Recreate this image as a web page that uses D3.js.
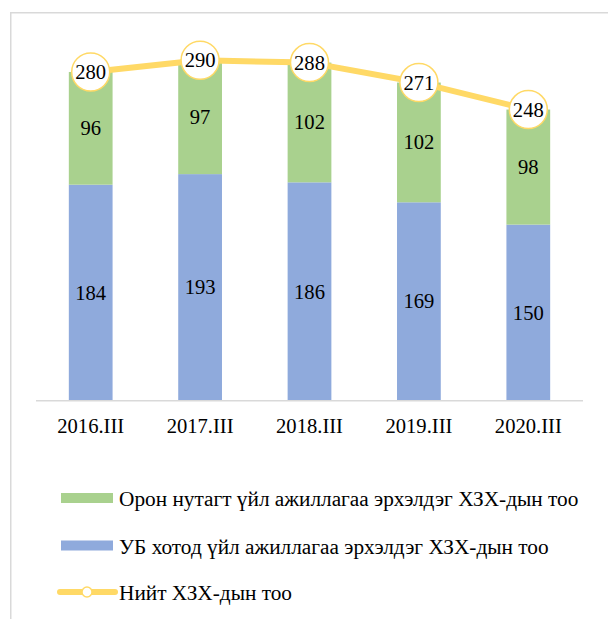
<!DOCTYPE html>
<html>
<head>
<meta charset="utf-8">
<script src="https://cdn.jsdelivr.net/npm/d3@7"></script>
<style>
html,body{margin:0;padding:0;background:#fff;}
svg{display:block;}
</style>
</head>
<body>
<svg id="chart" width="608" height="619"></svg>
<script>
const categories = ["2016.III", "2017.III", "2018.III", "2019.III", "2020.III"];
const ubValues = [184, 193, 186, 169, 150];
const ruralValues = [96, 97, 102, 102, 98];
const totalValues = [280, 290, 288, 271, 248];
const legendLabels = [
  "Орон нутагт үйл ажиллагаа эрхэлдэг ХЗХ-дын тоо",
  "УБ хотод үйл ажиллагаа эрхэлдэг ХЗХ-дын тоо",
  "Нийт ХЗХ-дын тоо"
];
const colors = {green: "#A9D18E", blue: "#8FAADC", yellow: "#FFD966", grid: "#D9D9D9"};
const FONT = "Liberation Serif, Times New Roman, serif";

const svg = d3.select("#chart");

// frame
svg.append("path")
  .attr("d", "M10.75,619 L10.75,12.75 L608,12.75")
  .attr("fill", "none").attr("stroke", colors.grid).attr("stroke-width", 1.5);

const x = d3.scaleBand().domain(categories).range([36, 583]).paddingInner(0.6).paddingOuter(0.3);
const y = d3.scaleLinear().domain([0, 300]).range([400.7, 400.7 - 300 * 1.174]);

const data = categories.map((c, i) => ({c, ub: ubValues[i], rural: ruralValues[i], total: totalValues[i]}));

// bars
const g = svg.append("g");
g.selectAll("rect.ub").data(data).join("rect").attr("class", "ub")
  .attr("x", d => x(d.c)).attr("width", x.bandwidth())
  .attr("y", d => y(d.ub)).attr("height", d => y(0) - y(d.ub))
  .attr("fill", colors.blue);
g.selectAll("rect.rural").data(data).join("rect").attr("class", "rural")
  .attr("x", d => x(d.c)).attr("width", x.bandwidth())
  .attr("y", d => y(d.ub + d.rural)).attr("height", d => y(d.ub) - y(d.ub + d.rural))
  .attr("fill", colors.green);

// axis
const axis = svg.append("g").attr("transform", `translate(0,${y(0)})`)
  .call(d3.axisBottom(x).tickSize(0).tickPadding(0));
axis.attr("font-family", FONT).attr("font-size", 20.6);
axis.select(".domain").attr("d", "M36,0H583").attr("stroke", colors.grid).attr("stroke-width", 1.5);
axis.selectAll(".tick text").attr("y", 32.3).attr("dy", null).attr("fill", "#000");

// segment labels
g.selectAll("text.ubl").data(data).join("text").attr("class", "ubl")
  .attr("x", d => x(d.c) + x.bandwidth() / 2)
  .attr("y", d => (y(0) + y(d.ub)) / 2 + 7)
  .attr("text-anchor", "middle").attr("font-family", FONT).attr("font-size", 20.6).text(d => d.ub);
g.selectAll("text.rl").data(data).join("text").attr("class", "rl")
  .attr("x", d => x(d.c) + x.bandwidth() / 2)
  .attr("y", d => (y(d.ub) + y(d.ub + d.rural)) / 2 + 7)
  .attr("text-anchor", "middle").attr("font-family", FONT).attr("font-size", 20.6).text(d => d.rural);

// total line
const cx = d => x(d.c) + x.bandwidth() / 2;
svg.append("path").datum(data)
  .attr("d", d3.line().x(cx).y(d => y(d.total)))
  .attr("fill", "none").attr("stroke", colors.yellow).attr("stroke-width", 6).attr("stroke-linejoin", "round");
svg.selectAll("circle.m").data(data).join("circle").attr("class", "m")
  .attr("cx", cx).attr("cy", d => y(d.total)).attr("r", 19)
  .attr("fill", "#fff").attr("stroke", colors.yellow).attr("stroke-width", 1.5);
svg.selectAll("text.tl").data(data).join("text").attr("class", "tl")
  .attr("x", cx).attr("y", d => y(d.total) + 7)
  .attr("text-anchor", "middle").attr("font-family", FONT).attr("font-size", 20.6).text(d => d.total);

// legend
const lg = svg.append("g");
const rows = [498, 545.5, 592];
lg.append("rect").attr("x", 61).attr("y", rows[0] - 5).attr("width", 52).attr("height", 10).attr("fill", colors.green);
lg.append("rect").attr("x", 61).attr("y", rows[1] - 5).attr("width", 52).attr("height", 10).attr("fill", colors.blue);
lg.append("line").attr("x1", 60).attr("x2", 115).attr("y1", rows[2]).attr("y2", rows[2])
  .attr("stroke", colors.yellow).attr("stroke-width", 6).attr("stroke-linecap", "round");
lg.append("circle").attr("cx", 87).attr("cy", rows[2]).attr("r", 5)
  .attr("fill", "#fff").attr("stroke", colors.yellow).attr("stroke-width", 1.5);
lg.selectAll("text").data(legendLabels).join("text")
  .attr("x", 119).attr("y", (d, i) => rows[i] + 8)
  .attr("font-family", FONT).attr("font-size", 21.3).attr("fill", "#000").text(d => d);
</script>
</body>
</html>
